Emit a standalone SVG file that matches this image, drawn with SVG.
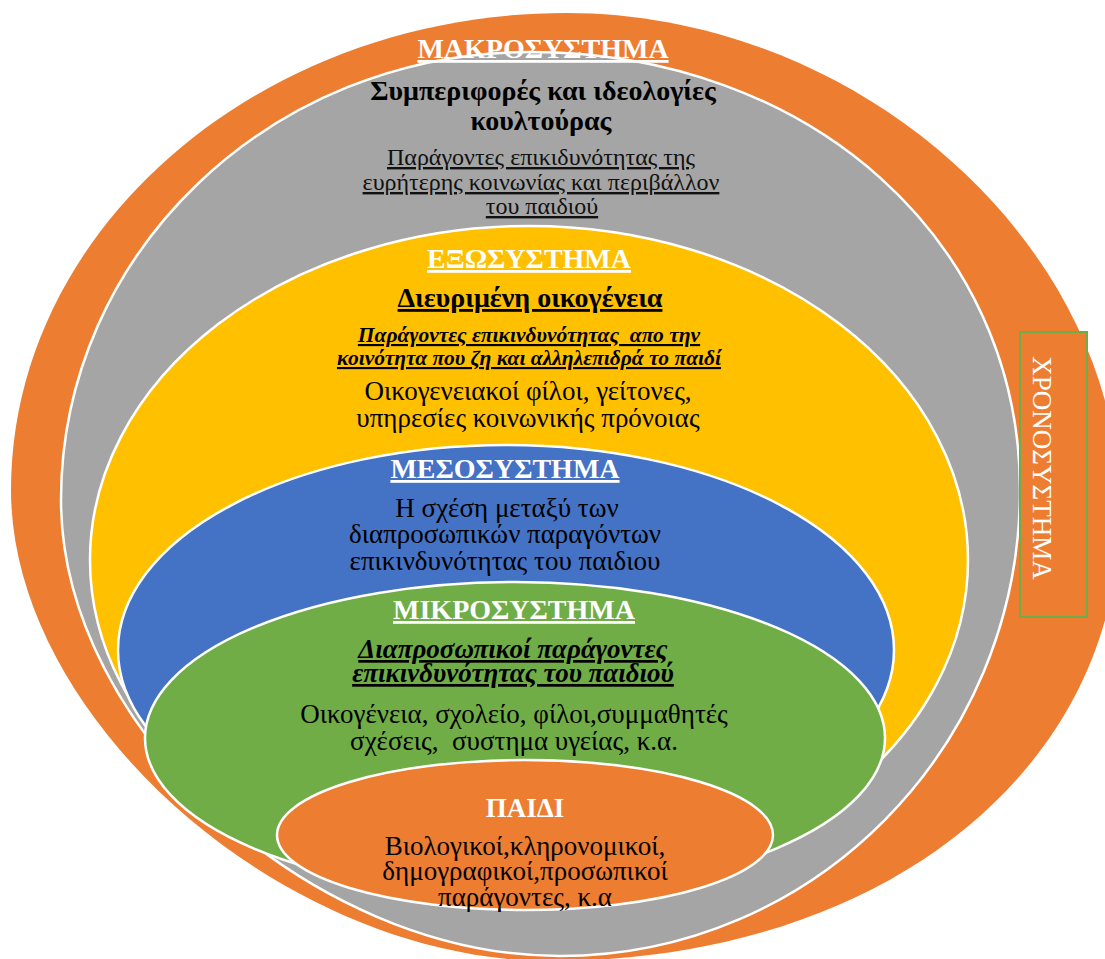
<svg xmlns="http://www.w3.org/2000/svg" width="1105" height="959" viewBox="0 0 1105 959">
<style>
.ring{stroke:#fff;stroke-width:2.5}
.hd{font-family:"Liberation Serif",serif;font-weight:bold;font-size:28px;fill:#fff;text-anchor:middle;text-decoration:underline}
.hn{font-family:"Liberation Serif",serif;font-weight:bold;font-size:27px;fill:#fff;text-anchor:middle}
.tx{font-family:"Liberation Serif",serif;font-size:27px;fill:#000;text-anchor:middle}
.sub{font-family:"Liberation Serif",serif;font-size:24px;fill:#111;text-anchor:middle;text-decoration:underline}
.bu{font-family:"Liberation Serif",serif;font-weight:bold;font-size:28px;fill:#000;text-anchor:middle}
.bul{text-decoration:underline}
.bi{font-family:"Liberation Serif",serif;font-weight:bold;font-style:italic;fill:#000;text-anchor:middle;text-decoration:underline}
</style>
<rect width="1105" height="959" fill="#fff"/>
<g id="chronosystem">
<path d="M566,13 C859.6,13 1120,246.6 1120,510 C1120,771.6 880.6,961 550,961 C286,961 11,720.8 11,490 C11,228 261,13 566,13 Z" fill="#ED7D31"/>
</g>
<g id="macrosystem">
<path class="ring" d="M530,52 C809.3,52 1020,240.3 1020,490 C1020,747.4 814,956 560,956 C310.5,956 61,728 61,500 C61,252.6 271,52 530,52 Z" fill="#A5A5A5"/>
<text class="hd" x="543" y="58">ΜΑΚΡΟΣΥΣΤΗΜΑ</text>
<text class="bu" x="543" y="100">Συμπεριφορές και ιδεολογίες</text>
<text class="bu" x="541" y="130">κουλτούρας</text>
<text class="sub" x="541" y="165">Παράγοντες επικιδυνότητας της</text>
<text class="sub" x="541" y="190">ευρήτερης κοινωνίας και περιβάλλον</text>
<text class="sub" x="542" y="214">του παιδιού</text>
</g>
<g id="exosystem">
<ellipse class="ring" cx="529" cy="560" rx="439" ry="334" fill="#FFC000"/>
<text class="hd" x="529" y="268">ΕΞΩΣΥΣΤΗΜΑ</text>
<text class="bu bul" x="530" y="307">Διευριμένη οικογένεια</text>
<text class="bi" x="529" y="342" font-size="21.5">Παράγοντες επικινδυνότητας&#160; απο την</text>
<text class="bi" x="529" y="365" font-size="21.5">κοινότητα που ζη και αλληλεπιδρά το παιδί</text>
<text class="tx" x="528" y="400">Οικογενειακοί φίλοι, γείτονες,</text>
<text class="tx" x="528" y="427">υπηρεσίες κοινωνικής πρόνοιας</text>
</g>
<g id="mesosystem">
<ellipse class="ring" cx="506" cy="650" rx="388" ry="205" fill="#4472C4"/>
<text class="hd" x="505" y="478">ΜΕΣΟΣΥΣΤΗΜΑ</text>
<text class="tx" x="507" y="517" font-size="26">Η σχέση μεταξύ των</text>
<text class="tx" x="505" y="543" font-size="26">διαπροσωπικών παραγόντων</text>
<text class="tx" x="505" y="570" font-size="26">επικινδυνότητας του παιδιου</text>
</g>
<g id="microsystem">
<ellipse class="ring" cx="515" cy="738" rx="370" ry="156" fill="#70AD47"/>
<text class="hd" x="514" y="619">ΜΙΚΡΟΣΥΣΤΗΜΑ</text>
<text class="bi" x="513" y="658" font-size="27">Διαπροσωπικοί παράγοντες</text>
<text class="bi" x="513" y="682" font-size="27">επικινδυνότητας του παιδιού</text>
<text class="tx" x="514" y="723">Οικογένεια, σχολείο, φίλοι,συμμαθητές</text>
<text class="tx" x="514" y="750" xml:space="preserve">σχέσεις,  συστημα υγείας, κ.α.</text>
</g>
<g id="child">
<ellipse class="ring" cx="525" cy="835" rx="248" ry="75" fill="#ED7D31"/>
<text class="hn" x="525" y="817">ΠΑΙΔΙ</text>
<text class="tx" x="525" y="855">Βιολογικοί,κληρονομικοί,</text>
<text class="tx" x="525" y="880">δημογραφικοί,προσωπικοί</text>
<text class="tx" x="525" y="906">παράγοντες, κ.α</text>
</g>
<g id="chronosystem-label">
<rect x="1020" y="332" width="67" height="285" fill="#ED7D31" stroke="#70AD47" stroke-width="2"/>
<text transform="translate(1033,468) rotate(90)" font-family="Liberation Serif, serif" font-size="27" fill="#fff" text-anchor="middle">ΧΡΟΝΟΣΥΣΤΗΜΑ</text>
</g>
<g id="connectors"/>
</svg>
